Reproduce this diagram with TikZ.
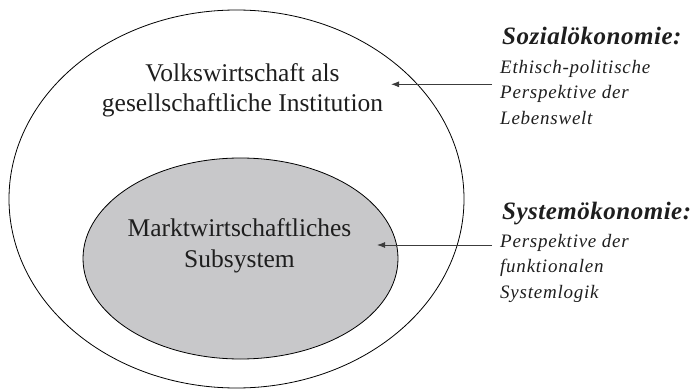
\documentclass[tikz,border=0pt]{standalone}
\usepackage{fontspec}
\setmainfont{Liberation Serif}
\newfontfamily\headfont[LetterSpace=2]{Liberation Serif}
\newfontfamily\descfont[LetterSpace=4]{Liberation Serif}
\usetikzlibrary{shapes.geometric,arrows.meta}
\definecolor{innergray}{RGB}{200,200,202}
\definecolor{txt}{RGB}{30,30,30}
\definecolor{arrowgray}{RGB}{60,60,60}
\begin{document}
\begin{tikzpicture}[x=1pt,y=-1pt,
  ell/.style={ellipse,draw=black,line width=0.8pt,inner sep=0pt,outer sep=0pt},
  maintext/.style={font=\fontsize{25.5}{30}\selectfont,text=txt,anchor=base,inner sep=0pt},
  headtext/.style={font=\fontsize{25}{30}\headfont\bfseries\itshape,text=txt,anchor=base west,inner sep=0pt},
  desctext/.style={font=\fontsize{19}{25}\descfont\itshape,text=txt,anchor=base west,inner sep=0pt},
  pointer/.style={draw=arrowgray,line width=0.9pt,-{Latex[length=8pt,width=6pt]}}]
\useasboundingbox (0,0) rectangle (695,390);
% ellipses
\node[ell,minimum width=455pt,minimum height=378pt] (outer) at (236.5,199) {};
\node[ell,fill=innergray,minimum width=315pt,minimum height=201pt] (inner) at (240.5,258.5) {};
% main texts
\node[maintext] (v1) at (242.5,82) {Volkswirtschaft als};
\node[maintext] (v2) at (242.5,112) {gesellschaftliche Institution};
\node[maintext] (m1) at (239.5,236) {Marktwirtschaftliches};
\node[maintext] (m2) at (239.5,267) {Subsystem};
% right labels
\node[headtext] (h1) at (502,45) {Sozialökonomie:};
\node[desctext] (d11) at (500,74) {Ethisch-politische};
\node[desctext] (d12) at (500,99) {Perspektive der};
\node[desctext] (d13) at (500,125) {Lebenswelt};
\node[headtext] (h2) at (502,219) {Systemökonomie:};
\node[desctext] (d21) at (500,247) {Perspektive der};
\node[desctext] (d22) at (500,272) {funktionalen};
\node[desctext] (d23) at (500,298) {Systemlogik};
% arrows
\coordinate (s1) at (492,84.3);
\coordinate (t1) at (391,84.3);
\coordinate (s2) at (492,245);
\coordinate (t2) at (377,245);
\draw[pointer] (s1) -- (t1);
\draw[pointer] (s2) -- (t2);
\end{tikzpicture}
\end{document}
